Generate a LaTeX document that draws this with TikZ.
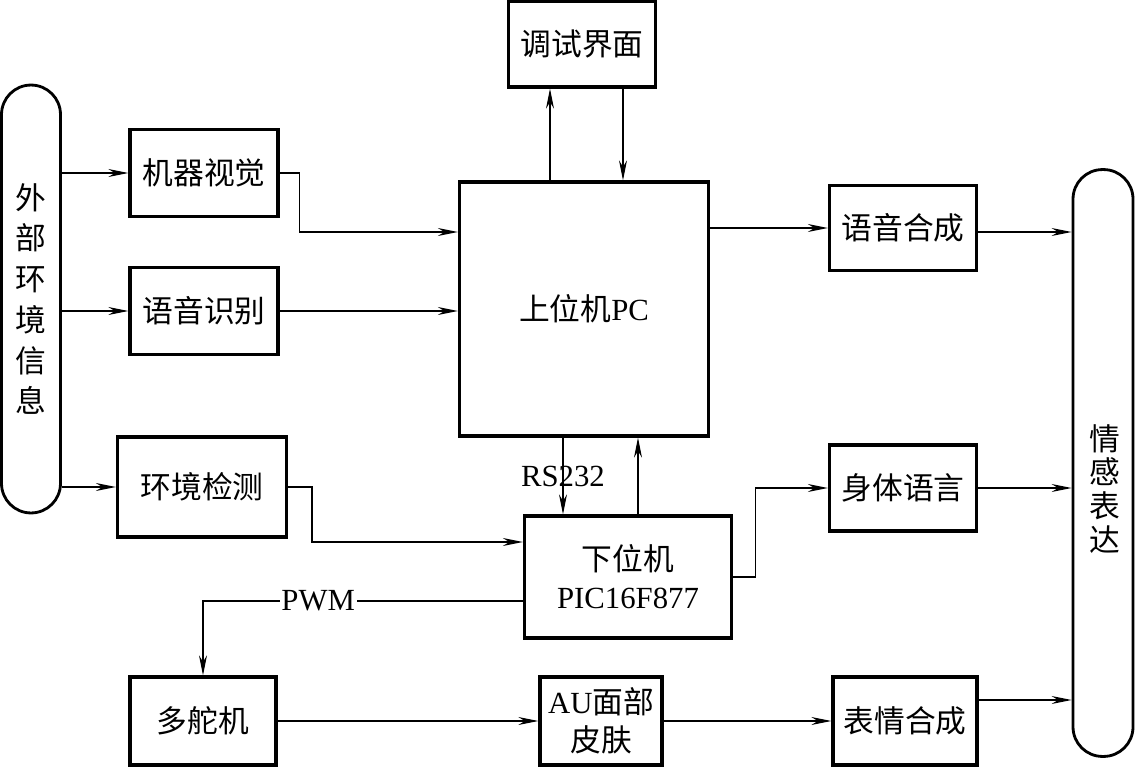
\documentclass[tikz,border=0pt]{standalone}
\usepackage{fontspec}
\setmainfont{Liberation Serif}
\newfontfamily\cjk{Noto Sans CJK SC}
\usetikzlibrary{arrows.meta}
\newcommand{\zh}[1]{{\cjk #1}}
\tikzset{
  blk/.style={draw, line width=1.9pt, align=center, inner sep=0pt},
  pill/.style={draw, line width=1.6pt, rounded corners=0.59cm, inner sep=0pt, align=center},
  conn/.style={line width=0.75pt, -{Stealth[length=4mm,width=1.6mm,inset=1.3mm]}},
}

\begin{document}
\begin{tikzpicture}[x=0.02cm, y=-0.02cm, font=\fontsize{17.5}{21.5}\selectfont]
    \useasboundingbox (0,0) rectangle (1135,767);

    % input and output columns
    \node[pill, minimum width=1.18cm, minimum height=8.56cm,
          font=\fontsize{17.5}{23.2}\selectfont] (ext) at (31,299)
        {\zh{外}\\\zh{部}\\\zh{环}\\\zh{境}\\\zh{信}\\\zh{息}};
    \node[pill, minimum width=1.2cm, minimum height=11.74cm] (emo) at (1103,463) {};
    \node[align=center, font=\fontsize{17.5}{19.3}\selectfont] (emotext) at (1105,489)
        {\zh{情}\\\zh{感}\\\zh{表}\\\zh{达}};

    % blocks
    \node[blk, minimum width=2.96cm, minimum height=1.74cm] (jqsj) at (204,173) {\zh{机器视觉}};
    \node[blk, minimum width=2.96cm, minimum height=1.74cm] (yysb) at (204,311) {\zh{语音识别}};
    \node[blk, minimum width=3.38cm, minimum height=2cm] (hjjc) at (202,487) {\zh{环境检测}};
    \node[blk, minimum width=2.94cm, minimum height=1.72cm] (ts) at (582,44) {\zh{调试界面}};
    \node[blk, minimum width=4.98cm, minimum height=5.08cm] (sw) at (584,309) {\zh{上位机}PC};
    \node[blk, minimum width=4.14cm, minimum height=2.44cm] (xw) at (628,577) {\zh{下位机}\\PIC16F877};
    \node[blk, minimum width=2.94cm, minimum height=1.7cm] (yyhc) at (903,228) {\zh{语音合成}};
    \node[blk, minimum width=2.94cm, minimum height=1.72cm] (stly) at (903,488) {\zh{身体语言}};
    \node[blk, minimum width=2.92cm, minimum height=1.76cm] (dd) at (203,721) {\zh{多舵机}};
    \node[blk, minimum width=2.44cm, minimum height=1.76cm] (au) at (601,721) {AU\zh{面部}\\\zh{皮肤}};
    \node[blk, minimum width=2.88cm, minimum height=1.76cm] (bqhc) at (905,721) {\zh{表情合成}};

    % connectors
    \draw[conn] (ext.east |- jqsj) -- (jqsj.west);
    \draw[conn] (ext.east |- yysb) -- (yysb.west);
    \draw[conn] (ext.east |- hjjc) -- (hjjc.west);
    \draw[conn] (jqsj.east) -- ++(20,0) |- (sw.west |- 0,232);
    \draw[conn] (yysb.east) -- (sw.west |- yysb.east);
    \draw[conn] (hjjc.east) -- ++(24,0) |- (xw.west |- 0,542);
    \draw[conn] (sw.north -| 550,0) -- (ts.south -| 550,0);
    \draw[conn] (ts.south -| 623,0) -- (sw.north -| 623,0);
    \draw[conn] (sw.east |- yyhc) -- (yyhc.west);
    \draw[conn] (yyhc.east |- 0,232) -- (emo.west |- 0,232);
    \draw[conn] (sw.south -| 563,0) -- node[pos=0.5] (rs) {RS232} (xw.north -| 563,0);
    \draw[conn] (xw.north -| 638,0) -- (sw.south -| 638,0);
    \draw[conn] (xw.east |- 0,577) -- ++(22,0) |- (stly.west);
    \draw[conn] (stly.east) -- (emo.west |- stly);
    \draw[conn] (xw.west |- 0,601) -| node[pos=0.32, fill=white, inner sep=1pt] (pwm) {PWM} (dd.north);
    \draw[conn] (dd.east) -- (au.west);
    \draw[conn] (au.east) -- (bqhc.west);
    \draw[conn] (bqhc.east |- 0,700) -- (emo.west |- 0,700);
\end{tikzpicture}
\end{document}
